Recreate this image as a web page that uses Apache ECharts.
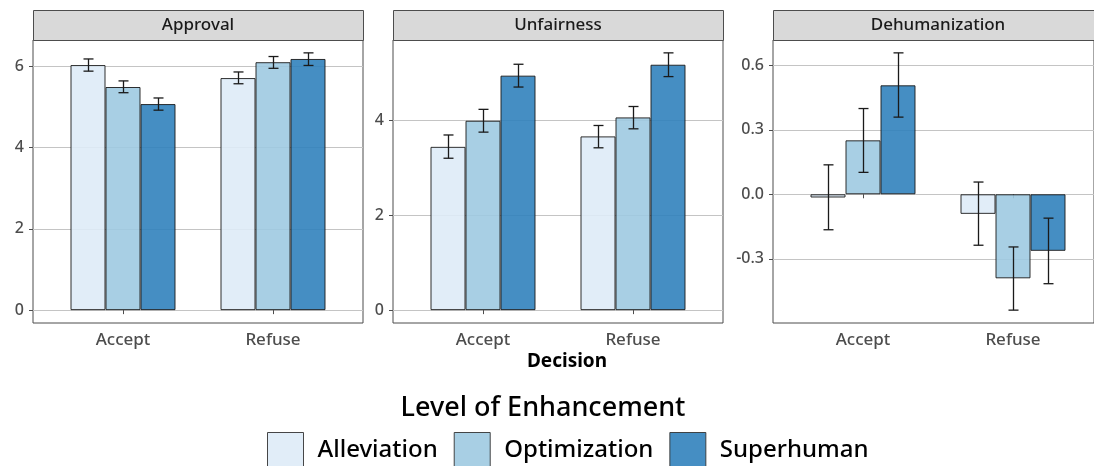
<!DOCTYPE html>
<html><head><meta charset="utf-8">
<script src="https://cdn.jsdelivr.net/npm/echarts@6/dist/echarts.min.js"></script>
<style>html,body{margin:0;padding:0;background:#fff}#c{width:1094px;height:466px}</style>
</head><body><div id="c"></div>
<script>
// ---- data ----
const categories = ['Accept', 'Refuse'];
const levels = ['Alleviation', 'Optimization', 'Superhuman'];
const panels = ['Approval', 'Unfairness', 'Dehumanization'];

// rows: Alleviation, Optimization, Superhuman ; columns: Accept, Refuse
const approvalMean = [[6.03, 5.71], [5.49, 6.10], [5.07, 6.18]];
const approvalLow  = [[5.88, 5.57], [5.35, 5.95], [4.92, 6.02]];
const approvalHigh = [[6.18, 5.86], [5.64, 6.24], [5.22, 6.33]];

const unfairnessMean = [[3.44, 3.66], [3.99, 4.06], [4.94, 5.17]];
const unfairnessLow  = [[3.20, 3.42], [3.75, 3.82], [4.70, 4.92]];
const unfairnessHigh = [[3.69, 3.89], [4.23, 4.29], [5.18, 5.42]];

const dehumanizationMean = [[-0.015, -0.091], [0.251, -0.391], [0.507, -0.263]];
const dehumanizationLow  = [[-0.165, -0.237], [0.102, -0.539], [0.359, -0.416]];
const dehumanizationHigh = [[0.137, 0.057], [0.399, -0.245], [0.658, -0.111]];

const approvalTicks = [0, 2, 4, 6];
const unfairnessTicks = [0, 2, 4];
const dehumanizationTicks = [-0.3, 0, 0.3, 0.6];

// ---- styling / layout ----
const fills = ['#deebf7', '#9ecae1', '#3182bd'];
const FONT = "'Noto Sans', 'DejaVu Sans', sans-serif";
const panelLeft = [33, 393, 773];
const panelW = 330, panelTop = 40, panelH = 283, inset = 15;

const means = [approvalMean, unfairnessMean, dehumanizationMean];
const lows = [approvalLow, unfairnessLow, dehumanizationLow];
const highs = [approvalHigh, unfairnessHigh, dehumanizationHigh];
const ticks = [approvalTicks, unfairnessTicks, dehumanizationTicks];
const splitNums = [3, 3, 4];
const decimals = [0, 0, 1];

function range(p) {
  const vals = [0].concat(lows[p].flat(), highs[p].flat(), means[p].flat());
  const lo = Math.min(...vals), hi = Math.max(...vals);
  const e = (hi - lo) * 0.05;
  return [lo - e, hi + e];
}

const grid = [], xAxis = [], yAxis = [], series = [], graphic = [];
panels.forEach((name, p) => {
  const L = panelLeft[p];
  const [mn, mx] = range(p);
  grid.push({left: L, top: panelTop, width: panelW, height: panelH, show: true,
    borderColor: '#4d4d4d', borderWidth: 1, backgroundColor: '#fff'});
  grid.push({left: L + inset, top: panelTop, width: panelW - 2 * inset, height: panelH});
  xAxis.push({type: 'value', gridIndex: 2 * p, show: false, min: 0, max: 1});
  xAxis.push({type: 'category', gridIndex: 2 * p + 1, data: categories,
    axisLine: {show: false},
    axisTick: {show: true, alignWithLabel: true, length: 4, lineStyle: {color: '#4d4d4d'}},
    axisLabel: {fontSize: 17, fontWeight: 500, color: '#4d4d4d', margin: 9, fontFamily: FONT}});
  yAxis.push({type: 'value', gridIndex: 2 * p, min: mn, max: mx, splitNumber: splitNums[p],
    axisLine: {show: false},
    axisTick: {show: true, length: 4, lineStyle: {color: '#4d4d4d'}, customValues: ticks[p]},
    axisLabel: {customValues: ticks[p], fontSize: 16, fontWeight: 500, color: '#4d4d4d', margin: 9, fontFamily: FONT,
      formatter: v => Number(v).toFixed(decimals[p])},
    splitLine: {show: true, lineStyle: {color: '#c4c4c4', width: 1}}});
  yAxis.push({type: 'value', gridIndex: 2 * p + 1, min: mn, max: mx, show: false});

  levels.forEach((lev, l) => {
    series.push({type: 'bar', name: lev, xAxisIndex: 2 * p + 1, yAxisIndex: 2 * p + 1,
      data: means[p][l], barGap: '0%', barCategoryGap: '30%', silent: true, z: 2,
      itemStyle: {color: fills[l], opacity: 0.9, borderColor: '#1a1a1a', borderWidth: 1}});
  });
  levels.forEach((lev, l) => {
    series.push({type: 'custom', xAxisIndex: 2 * p + 1, yAxisIndex: 2 * p + 1, silent: true, z: 5,
      encode: {x: 0, y: [1, 2]},
      data: categories.map((c, i) => [i, lows[p][l][i], highs[p][l][i]]),
      renderItem: (params, api) => {
        const band = api.size([1, 0])[0];
        const bw = band * 0.7 / 3;
        const a = api.coord([api.value(0), api.value(2)]);
        const b = api.coord([api.value(0), api.value(1)]);
        const cx = Math.round(a[0] + (l - 1) * bw) + 0.5;
        const hw = 5;
        const st = {stroke: '#1a1a1a', lineWidth: 1.3};
        return {type: 'group', children: [
          {type: 'line', shape: {x1: cx, y1: a[1], x2: cx, y2: b[1]}, style: st},
          {type: 'line', shape: {x1: cx - hw, y1: a[1], x2: cx + hw, y2: a[1]}, style: st},
          {type: 'line', shape: {x1: cx - hw, y1: b[1], x2: cx + hw, y2: b[1]}, style: st}
        ]};
      }});
  });

  graphic.push({type: 'rect', shape: {x: L + 0.5, y: 10.5, width: panelW, height: 30},
    style: {fill: '#d9d9d9', stroke: '#4d4d4d', lineWidth: 1}, silent: true});
  graphic.push({type: 'text', style: {text: name, x: L + panelW / 2, y: 25, align: 'center',
    verticalAlign: 'middle', font: '500 17px ' + FONT, fill: '#1a1a1a'}, silent: true});
});

graphic.push({type: 'text', style: {text: 'Decision', x: 567, y: 362, align: 'center',
  verticalAlign: 'middle', font: 'bold 19px ' + FONT, fill: '#000'}, silent: true});
graphic.push({type: 'text', style: {text: 'Level of Enhancement', x: 543, y: 408, align: 'center',
  verticalAlign: 'middle', font: '500 27px ' + FONT, fill: '#000'}, silent: true});

const chart = echarts.init(document.getElementById('c'), null, {renderer: 'canvas'});
chart.setOption({
  animation: false,
  backgroundColor: '#fff',
  grid, xAxis, yAxis, series, graphic,
  legend: {data: levels, left: 267, top: 432, padding: 0, itemWidth: 36, itemHeight: 36, itemGap: 16,
    icon: 'rect', selectedMode: false,
    itemStyle: {opacity: 0.9, borderColor: '#333', borderWidth: 1},
    textStyle: {fontSize: 24, fontWeight: 500, color: '#000', fontFamily: FONT, padding: [0, 0, 0, 9]}}
});
</script>
</body></html>
